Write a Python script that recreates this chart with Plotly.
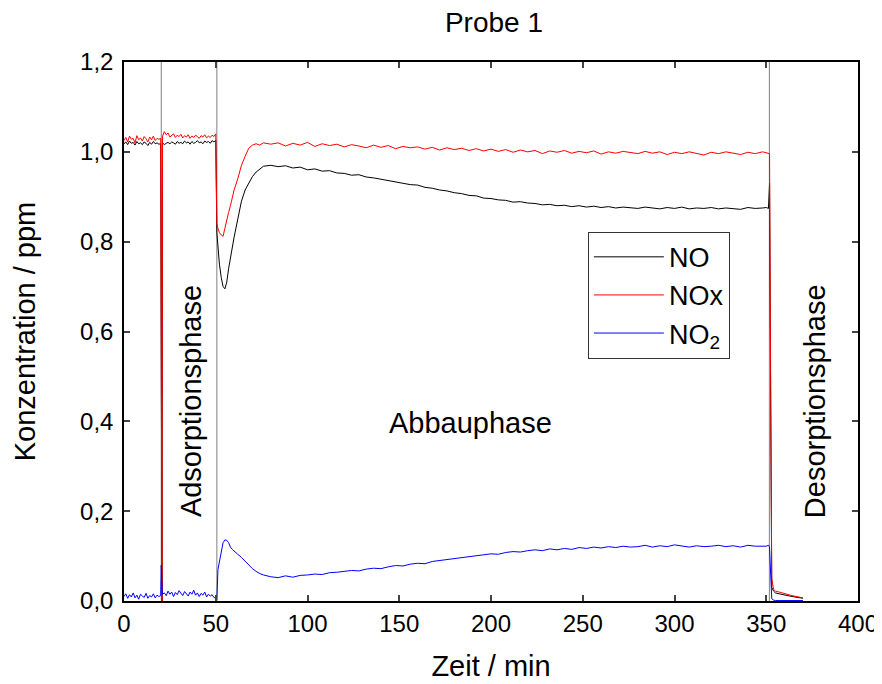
import plotly.graph_objects as go

# sampling times (min)
zeit = (
    list(range(0, 20))
    + [20.0, 20.3, 20.7, 21.0]
    + list(range(22, 51))
    + [50.6, 51.2, 52, 53, 54, 55, 56, 57, 58, 59, 60, 62, 64, 66, 68, 70, 72, 74, 76]
    + list(range(80, 349, 4))
    + [350, 351.2, 351.8, 352.4, 353, 354, 355, 357, 360, 364, 370]
)

no = (
    [1.018, 1.022, 1.016, 1.024, 1.019, 1.021, 1.015, 1.023, 1.018, 1.020,
     1.016, 1.022, 1.019, 1.014, 1.021, 1.017, 1.023, 1.018, 1.020, 1.017]
    + [1.018, 0.0, 0.0, 1.020]
    + [1.016, 1.019, 1.021, 1.018, 1.022, 1.020, 1.017, 1.023, 1.019, 1.021,
       1.018, 1.024, 1.020, 1.022, 1.017, 1.023, 1.019, 1.021, 1.025, 1.020,
       1.022, 1.018, 1.024, 1.021, 1.023, 1.019, 1.025, 1.022, 1.026]
    + [0.82, 0.78, 0.75, 0.72, 0.70, 0.695, 0.71, 0.74, 0.765, 0.785,
       0.81, 0.85, 0.89, 0.915, 0.93, 0.945, 0.955, 0.962, 0.968]
    + [0.970, 0.967, 0.969, 0.964, 0.966, 0.960, 0.962, 0.957, 0.958, 0.953,
       0.952, 0.948, 0.949, 0.944, 0.942, 0.939, 0.936, 0.933, 0.930, 0.927,
       0.926, 0.921, 0.919, 0.915, 0.913, 0.909, 0.907, 0.903, 0.902, 0.897,
       0.896, 0.893, 0.892, 0.888, 0.889, 0.886, 0.885, 0.882, 0.883, 0.880,
       0.881, 0.878, 0.880, 0.877, 0.879, 0.876, 0.878, 0.875, 0.877, 0.876,
       0.874, 0.877, 0.875, 0.873, 0.876, 0.874, 0.877, 0.873, 0.875, 0.874,
       0.876, 0.873, 0.875, 0.874, 0.872, 0.876, 0.874, 0.875]
    + [0.876, 0.874, 0.93, 0.45, 0.03, 0.022, 0.018, 0.016, 0.013, 0.010, 0.006]
)

nox = (
    [1.025, 1.032, 1.022, 1.035, 1.028, 1.030, 1.020, 1.036, 1.027, 1.031,
     1.024, 1.034, 1.029, 1.022, 1.033, 1.027, 1.035, 1.025, 1.030, 1.028]
    + [1.030, 0.0, 0.0, 1.035]
    + [1.045, 1.038, 1.042, 1.033, 1.036, 1.040, 1.032, 1.037, 1.034, 1.039,
       1.031, 1.036, 1.033, 1.038, 1.030, 1.035, 1.032, 1.037, 1.034, 1.030,
       1.036, 1.033, 1.038, 1.031, 1.035, 1.032, 1.037, 1.034, 1.040]
    + [0.84, 0.83, 0.82, 0.815, 0.812, 0.83, 0.85, 0.865, 0.88, 0.90,
       0.915, 0.94, 0.97, 0.99, 1.008, 1.015, 1.018, 1.015, 1.02]
    + [1.017, 1.020, 1.013, 1.019, 1.015, 1.021, 1.012, 1.018, 1.014, 1.017,
       1.011, 1.016, 1.013, 1.009, 1.015, 1.010, 1.014, 1.007, 1.012, 1.009,
       1.011, 1.006, 1.010, 1.004, 1.009, 1.005, 1.008, 1.003, 1.007, 1.002,
       1.006, 1.001, 1.005, 0.999, 1.004, 1.000, 1.003, 0.996, 1.002, 0.999,
       1.003, 0.997, 1.001, 0.998, 1.002, 0.995, 1.000, 0.997, 1.001, 0.998,
       0.996, 1.001, 0.997, 1.000, 0.994, 0.999, 0.996, 1.000, 0.997, 0.993,
       0.999, 0.996, 1.000, 0.997, 0.994, 0.999, 0.996, 1.000]
    + [0.998, 0.997, 0.996, 0.5, 0.05, 0.026, 0.022, 0.020, 0.016, 0.012, 0.007]
)

no2 = (
    [0.010, 0.016, 0.006, 0.014, 0.009, 0.018, 0.007, 0.013, 0.004, 0.015,
     0.011, 0.008, 0.017, 0.006, 0.012, 0.009, 0.016, 0.007, 0.013, 0.010]
    + [0.012, 0.08, 0.03, 0.015]
    + [0.018, 0.012, 0.022, 0.015, 0.020, 0.010, 0.019, 0.014, 0.023, 0.016,
       0.012, 0.021, 0.017, 0.011, 0.020, 0.015, 0.024, 0.013, 0.018, 0.010,
       0.017, 0.013, 0.020, 0.009, 0.015, 0.011, 0.014, 0.008, 0.006]
    + [0.002, 0.07, 0.09, 0.115, 0.13, 0.136, 0.135, 0.13, 0.12, 0.115,
       0.112, 0.104, 0.097, 0.088, 0.079, 0.072, 0.066, 0.061, 0.058]
    + [0.054, 0.052, 0.056, 0.053, 0.057, 0.058, 0.060, 0.059, 0.063, 0.064,
       0.066, 0.068, 0.067, 0.071, 0.073, 0.072, 0.076, 0.079, 0.078, 0.082,
       0.084, 0.083, 0.088, 0.090, 0.092, 0.094, 0.097, 0.099, 0.101, 0.103,
       0.105, 0.104, 0.108, 0.110, 0.109, 0.112, 0.114, 0.112, 0.116, 0.114,
       0.117, 0.115, 0.119, 0.117, 0.120, 0.118, 0.121, 0.119, 0.122, 0.120,
       0.121, 0.124, 0.120, 0.123, 0.121, 0.125, 0.122, 0.120, 0.123, 0.121,
       0.122, 0.124, 0.121, 0.123, 0.120, 0.124, 0.122, 0.123]
    + [0.122, 0.124, 0.12, 0.06, 0.005, 0.002, 0.001, 0.001, 0.001, 0.001, 0.001]
)

phasen_grenzen = [20.3, 50.6, 351.7]

FONT = "Liberation Sans, Arial, sans-serif"

fig = go.Figure()
fig.add_trace(go.Scatter(x=zeit, y=no, mode="lines", name="NO",
                         line=dict(color="black", width=1)))
fig.add_trace(go.Scatter(x=zeit, y=nox, mode="lines", name="NOx",
                         line=dict(color="#ff0000", width=1)))
fig.add_trace(go.Scatter(x=zeit, y=no2, mode="lines", name="NO<sub>2</sub>",
                         line=dict(color="#0000ff", width=1)))

for g in phasen_grenzen:
    fig.add_shape(type="line", xref="x", yref="paper", x0=g, x1=g, y0=0, y1=1,
                  line=dict(color="#808080", width=1), layer="below")

fig.add_annotation(x=36.5, y=0.445, text="Adsorptionsphase", textangle=-90,
                   showarrow=False, font=dict(size=29))
fig.add_annotation(x=189, y=0.396, text="Abbauphase", showarrow=False,
                   font=dict(size=29))
fig.add_annotation(x=376.6, y=0.445, text="Desorptionsphase", textangle=-90,
                   showarrow=False, font=dict(size=29))

# the page body adds an 8px offset, so the figure is 8px smaller and margins shifted
fig.update_layout(
    width=874, height=676,
    margin=dict(l=116, r=24, t=54, b=83),
    plot_bgcolor="white", paper_bgcolor="white",
    font=dict(family=FONT, color="black", size=24),
    separators=",.",
    title=dict(text="Probe 1", x=0.556, xanchor="center", y=0.979, yanchor="middle",
               font=dict(size=28)),
    legend=dict(x=0.632, y=0.685, xanchor="left", yanchor="top",
                bgcolor="white", bordercolor="#333", borderwidth=1,
                font=dict(size=27), itemwidth=70, tracegroupgap=0),
)
fig.update_xaxes(range=[0, 400], dtick=50, ticks="inside", ticklen=6, tickwidth=1.5,
                 showline=True, linecolor="black", linewidth=1.5, mirror="ticks",
                 showgrid=False, zeroline=False, automargin=False,
                 title=dict(text="Zeit / min", font=dict(size=29), standoff=20))
fig.update_yaxes(range=[0, 1.2], dtick=0.2, tickformat=".1f", ticks="inside",
                 ticklen=6, tickwidth=1.5, ticklabelstandoff=4,
                 showline=True, linecolor="black", linewidth=1.5, mirror="ticks",
                 showgrid=False, zeroline=False, automargin=False,
                 title=dict(text="Konzentration / ppm", font=dict(size=29), standoff=36))

fig.write_html("out.html")
